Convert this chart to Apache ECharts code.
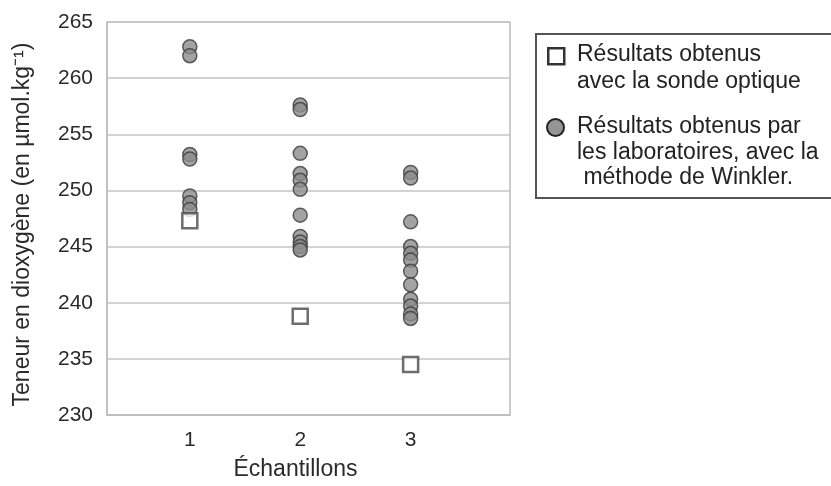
<!DOCTYPE html>
<html>
<head>
<meta charset="utf-8">
<script src="https://cdn.jsdelivr.net/npm/echarts@6/dist/echarts.min.js"></script>
<style>html,body{margin:0;padding:0;background:#fff;}#c{width:831px;height:486px;}</style>
</head>
<body>
<div id="c"></div>
<script>
const categories = [1, 2, 3];
const yTicks = [230, 235, 240, 245, 250, 255, 260, 265];
const sondeValues = [247.3, 238.8, 234.5];
const winkler1 = [262.8, 262.0, 253.2, 252.8, 249.5, 248.9, 248.3];
const winkler2 = [257.6, 257.2, 253.3, 251.5, 250.9, 250.1, 247.8, 245.9, 245.4, 245.0, 244.7];
const winkler3 = [251.6, 251.1, 247.2, 245.0, 244.4, 243.8, 242.8, 241.6, 240.3, 239.7, 239.0, 238.6];
const seriesNames = ['Résultats obtenus\navec la sonde optique', 'Résultats obtenus par\nles laboratoires, avec la\n méthode de Winkler.'];

const winklerGroups = [winkler1, winkler2, winkler3];
const winklerData = [];
winklerGroups.forEach((g, i) => g.forEach(v => winklerData.push([categories[i], v])));
const sondeData = sondeValues.map((v, i) => [categories[i], v]);

const font = 'Liberation Sans, Arial, sans-serif';
const txt = '#2a2a2a';
const chart = echarts.init(document.getElementById('c'));
chart.setOption({
  animation: false,
  backgroundColor: '#fff',
  textStyle: { fontFamily: font },
  grid: { left: 107, right: 321, top: 22, bottom: 70, show: true, borderColor: '#bdbdbd', borderWidth: 1.5 },
  xAxis: {
    type: 'value', min: 0.25, max: 3.9,
    name: 'Échantillons', nameLocation: 'middle', nameGap: 43,
    nameTextStyle: { fontSize: 23, color: txt, fontFamily: font, padding: [0, 26, 0, 0] },
    axisLine: { show: true, lineStyle: { color: '#bdbdbd', width: 1.5 } },
    axisTick: { show: false },
    splitLine: { show: false },
    axisLabel: { customValues: categories, fontSize: 21, color: txt, margin: 15, fontFamily: font }
  },
  yAxis: {
    type: 'value', min: yTicks[0], max: yTicks[yTicks.length - 1], interval: 5,
    name: 'Teneur en dioxygène (en µmol.kg⁻¹)', nameLocation: 'middle', nameGap: 73, nameRotate: 90,
    nameTextStyle: { fontSize: 23, color: txt, fontFamily: font, padding: [0, 12, 0, 0] },
    axisLine: { show: true, lineStyle: { color: '#bdbdbd', width: 1.5 } },
    axisTick: { show: false },
    splitLine: { show: true, lineStyle: { color: '#c4c4c4', width: 1.5 } },
    axisLabel: { fontSize: 21, color: txt, margin: 14, fontFamily: font }
  },
  legend: { show: false, data: seriesNames },
  graphic: [
    { type: 'rect', left: 535, top: 33, z: 10, shape: { width: 320, height: 164 }, style: { fill: '#fff', stroke: '#555', lineWidth: 2 } },
    { type: 'rect', left: 547, top: 47, z: 11, shape: { width: 16, height: 16 }, style: { fill: '#fff', stroke: '#333', lineWidth: 2.5 } },
    { type: 'circle', left: 546, top: 118, z: 11, shape: { r: 8.5 }, style: { fill: '#959595', stroke: '#222', lineWidth: 2 } },
    { type: 'text', left: 577, top: 41, z: 11, style: { text: seriesNames[0], font: '23px ' + font, fill: '#222', lineHeight: 27 } },
    { type: 'text', left: 577, top: 114, z: 11, style: { text: seriesNames[1], font: '23px ' + font, fill: '#222', lineHeight: 25.5 } }
  ],
  series: [
    {
      name: seriesNames[1], type: 'scatter', data: winklerData, symbol: 'circle', symbolSize: 14, z: 2,
      itemStyle: { color: '#8c8c8c', borderColor: '#3c3c3c', borderWidth: 1.5 }
    },
    {
      name: seriesNames[0], type: 'scatter', data: sondeData, symbol: 'rect', symbolSize: 15, z: 3,
      itemStyle: { color: '#ffffff', borderColor: '#4a4a4a', borderWidth: 2.5 }
    }
  ]
});
</script>
</body>
</html>
